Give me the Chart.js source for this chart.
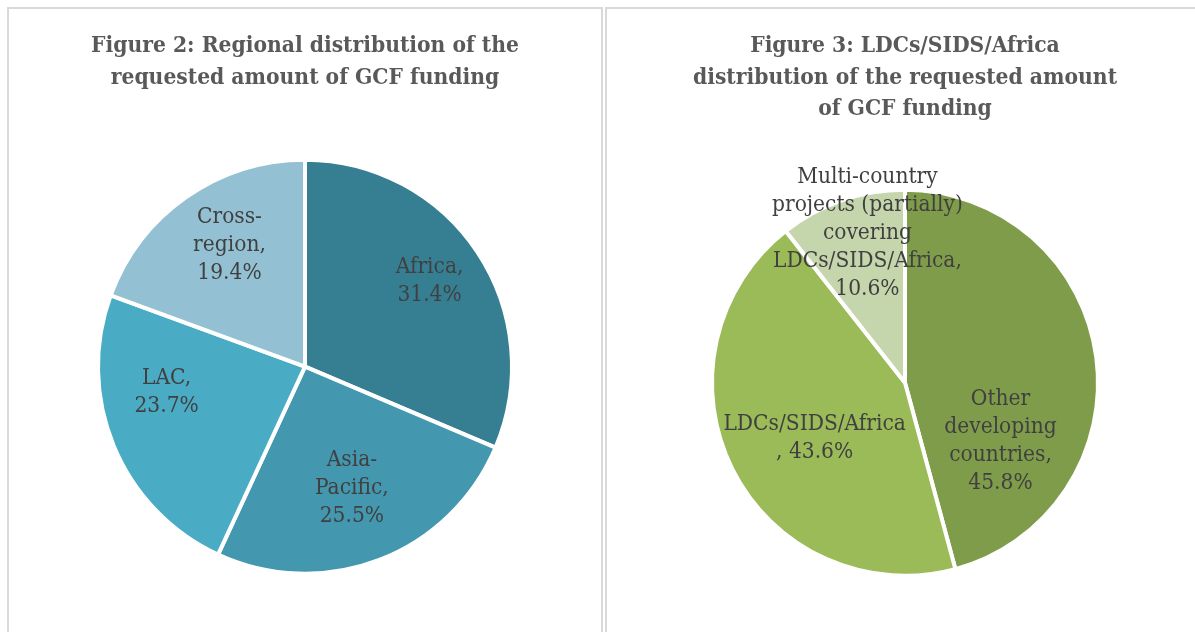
<!DOCTYPE html>
<html>
<head>
<meta charset="utf-8">
<script src="https://cdn.jsdelivr.net/npm/chart.js@4"></script>
<style>
  html, body { margin: 0; padding: 0; background: #fff; overflow: hidden; }
  body { width: 1195px; height: 632px; position: relative; }
  .panel { position: absolute; border: 2px solid #d9d9d9; box-sizing: border-box; }
  #p1 { left: 7px; top: 7px; width: 596px; height: 640px; }
  #p2 { left: 605px; top: 7px; width: 603px; height: 640px; }
  .box { position: absolute; }
  #b1 { left: 8px; top: 8px; width: 594px; height: 624px; }
  #b2 { left: 606px; top: 8px; width: 598px; height: 624px; }
</style>
</head>
<body>
<div class="panel" id="p1"></div>
<div class="panel" id="p2"></div>
<div class="box" id="b1"><canvas id="c1"></canvas></div>
<div class="box" id="b2"><canvas id="c2"></canvas></div>
<script>
// Figure 2 data
const regions = ['Africa', 'Asia-Pacific', 'LAC', 'Cross-region'];
const regionShares = [31.4, 25.5, 23.7, 19.4];
const regionLabelNames = [['Africa,'], ['Asia-', 'Pacific,'], ['LAC,'], ['Cross-', 'region,']];

// Figure 3 data
const groups = ['Other developing countries', 'LDCs/SIDS/Africa', 'Multi-country projects (partially) covering LDCs/SIDS/Africa'];
const groupShares = [45.8, 43.6, 10.6];
const groupLabelNames = [['Other', 'developing', 'countries,'], ['LDCs/SIDS/Africa'], ['Multi-country', 'projects (partially)', 'covering', 'LDCs/SIDS/Africa,']];
const groupValuePrefix = ['', ', ', ''];

const SERIF = '"DejaVu Serif Condensed", "DejaVu Serif", serif';

// draws labels inside slices: [radius fraction, angle shift in degrees]
const sliceLabels = {
  id: 'sliceLabels',
  afterDatasetsDraw(chart, args, opts) {
    const ctx = chart.ctx;
    const meta = chart.getDatasetMeta(0);
    ctx.save();
    ctx.font = opts.size + 'px ' + SERIF;
    ctx.fillStyle = '#404040';
    ctx.textAlign = 'center';
    ctx.textBaseline = 'middle';
    meta.data.forEach((arc, i) => {
      const p = arc.getProps(['x', 'y', 'startAngle', 'endAngle', 'outerRadius']);
      const place = opts.place[i];
      const a = (p.startAngle + p.endAngle) / 2 + place[1] * Math.PI / 180;
      const r = p.outerRadius * place[0];
      const cx = p.x + Math.cos(a) * r;
      const cy = p.y + Math.sin(a) * r;
      const lines = opts.lines[i];
      const top = cy - (lines.length - 1) * opts.lineHeight / 2;
      lines.forEach((t, k) => ctx.fillText(t, cx, top + k * opts.lineHeight));
    });
    ctx.restore();
  }
};

function makePie(id, labels, values, colors, titleLines, radius, padBottom, lines, place) {
  return new Chart(document.getElementById(id), {
    type: 'pie',
    data: {
      labels: labels,
      datasets: [{
        data: values,
        backgroundColor: colors,
        borderColor: '#ffffff',
        borderWidth: 4
      }]
    },
    options: {
      responsive: true,
      maintainAspectRatio: false,
      animation: false,
      radius: radius,
      layout: { padding: { bottom: padBottom } },
      plugins: {
        legend: { display: false },
        tooltip: { enabled: false },
        title: {
          display: true,
          text: titleLines,
          color: '#595959',
          font: { family: SERIF, size: 22.6, weight: 'bold', lineHeight: 1.38 },
          padding: { top: 23, bottom: 20 }
        },
        sliceLabels: { size: 22.5, lineHeight: 28, lines: lines, place: place }
      }
    },
    plugins: [sliceLabels]
  });
}

const regionLines = regionLabelNames.map((n, i) => n.concat(regionShares[i].toFixed(1) + '%'));
const groupLines = groupLabelNames.map((n, i) => {
  if (groupValuePrefix[i]) return n.concat(groupValuePrefix[i] + groupShares[i].toFixed(1) + '%');
  return n.concat(groupShares[i].toFixed(1) + '%');
});

makePie('c1', regions, regionShares,
  ['#367f93', '#4397ae', '#4aabc5', '#93c1d3'],
  ['Figure 2: Regional distribution of the', 'requested amount of GCF funding'],
  207, 12, regionLines,
  [[0.73, -1], [0.63, 0], [0.68, 12], [0.69, 3]]);

makePie('c2', groups, groupShares,
  ['#7f9c4a', '#9bbb59', '#c5d6ac'],
  ['Figure 3: LDCs/SIDS/Africa', 'distribution of the requested amount', 'of GCF funding'],
  193, 11, groupLines,
  [[0.58, 39], [0.55, -5], [0.80, 5]]);
</script>
</body>
</html>
